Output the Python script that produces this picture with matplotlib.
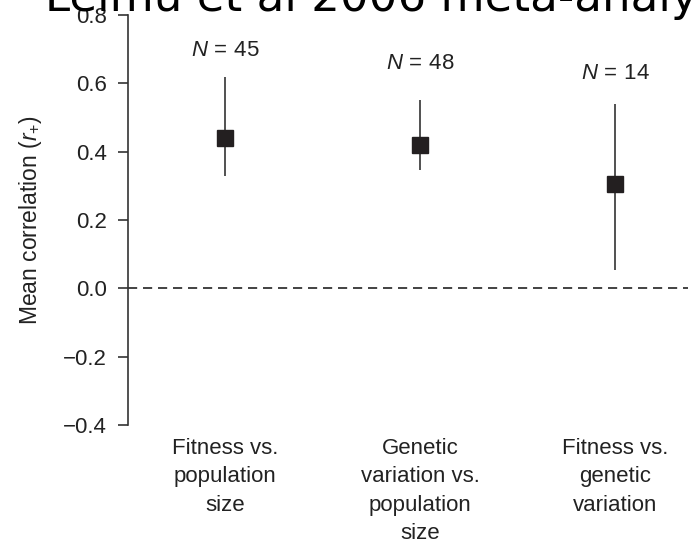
import numpy as np
import matplotlib
matplotlib.use('Agg')
import matplotlib.pyplot as plt

plt.rcParams['font.family'] = ['Liberation Sans', 'DejaVu Sans']
plt.rcParams['mathtext.fontset'] = 'custom'
plt.rcParams['mathtext.rm'] = 'Liberation Sans'
plt.rcParams['mathtext.it'] = 'Liberation Sans:italic'

# Leimu et al. 2006 meta-analysis: mean correlations with 95% CI
categories = ['Fitness vs.\npopulation\nsize',
              'Genetic\nvariation vs.\npopulation\nsize',
              'Fitness vs.\ngenetic\nvariation']
mean_r = [0.44, 0.42, 0.305]
ci_low = [0.33, 0.345, 0.055]
ci_high = [0.62, 0.55, 0.54]
n_studies = [45, 48, 14]

# where the N labels sit (layout only)
n_label_y = [0.697, 0.658, 0.628]

x = np.arange(1, len(categories) + 1)
mean_arr = np.array(mean_r)
yerr = [mean_arr - np.array(ci_low), np.array(ci_high) - mean_arr]

fig = plt.figure(figsize=(6.96, 5.43), dpi=100)
ax = fig.add_axes([128 / 696, 1 - 425 / 543, 560 / 696, 410 / 543])

ax.axhline(0, color='#222222', lw=1.2, dashes=(5.5, 3.5), zorder=1)
ax.errorbar(x, mean_r, yerr=yerr, fmt='s', color='#231f20', ecolor='#333333',
            elinewidth=1.2, capsize=0, markersize=11, zorder=3)

for xi, yi, n in zip(x, n_label_y, n_studies):
    ax.text(xi, yi, r'$N\,=\,%d$' % n, ha='center', va='center', fontsize=16,
            color='#222222')

ax.set_xlim(0.5, 3.375)
ax.set_ylim(-0.4, 0.8)
ax.set_yticks([-0.4, -0.2, 0.0, 0.2, 0.4, 0.6, 0.8])
ax.set_yticklabels(['\u22120.4', '\u22120.2', '0.0', '0.2', '0.4', '0.6', '0.8'])
ax.set_xticks(x)
ax.set_xticklabels(categories, fontsize=16, color='#222222', linespacing=1.47)

for side in ['top', 'right', 'bottom']:
    ax.spines[side].set_visible(False)
ax.spines['left'].set_color('#333333')
ax.spines['left'].set_linewidth(1.2)
ax.tick_params(axis='y', length=7, width=1.2, pad=8, labelsize=16,
               color='#333333', labelcolor='#222222')
ax.tick_params(axis='x', length=0, pad=9)

ax.set_ylabel(r'Mean correlation ($r_{+}$)', fontsize=16.5, color='#222222',
              labelpad=14)

# title sits partly off the top of the image
fig.text(45 / 696, 1 - 11 / 543, 'Leimu et al 2006 meta-analysis',
         family='DejaVu Sans', fontsize=32.5, color='black', va='baseline',
         ha='left')

fig.savefig('out.png', dpi=100)
